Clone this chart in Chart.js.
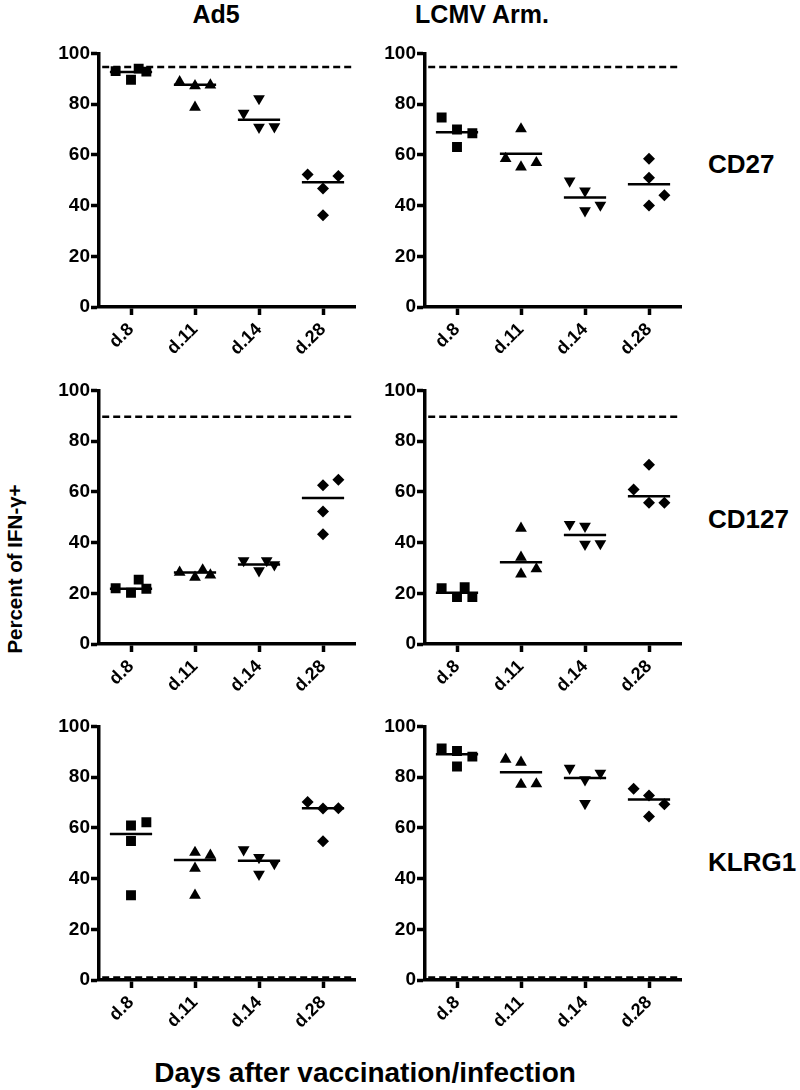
<!DOCTYPE html>
<html>
<head>
<meta charset="utf-8">
<script src="https://cdn.jsdelivr.net/npm/chart.js@4.4.1/dist/chart.umd.min.js"></script>
<style>
  body { margin: 0; width: 800px; height: 1090px; position: relative; overflow: hidden; background: #fff;
         font-family: "Liberation Sans", Arial, sans-serif; font-weight: bold; color: #000; }
  canvas { position: absolute; }
  .lbl { position: absolute; white-space: nowrap; line-height: 1; transform: translate(-50%, -50%); }
  .row { position: absolute; white-space: nowrap; line-height: 1; transform: translateY(-50%); font-size: 26px; }
</style>
</head>
<body>

<div class="lbl" style="left:216px;top:14px;font-size:25px">Ad5</div>
<div class="lbl" style="left:482px;top:14px;font-size:25px">LCMV Arm.</div>
<div class="row" style="left:708px;top:164px">CD27</div>
<div class="row" style="left:708px;top:519px">CD127</div>
<div class="row" style="left:708px;top:862px">KLRG1</div>
<div class="lbl" style="left:15px;top:569px;font-size:20.5px;transform:translate(-50%,-50%) rotate(-90deg)">Percent of IFN-γ+</div>
<div class="lbl" style="left:365px;top:1073px;font-size:28px">Days after vaccination/infection</div>

<script>
// jours et graduations
const jours = ["d.8", "d.11", "d.14", "d.28"];
const yTicks = [0, 20, 40, 60, 80, 100];
// ligne pointillée de référence, une par rangée (CD27, CD127, KLRG1)
const refLignes = [94.6, 89.6, 1.0];

// valeurs par souris (4 par jour), et la barre horizontale de chaque groupe
const ad5Cd27 = [[89.6, 92.8, 93.0, 94.0], [87.2, 88.8, 87.5, 78.7], [82.2, 76.4, 70.9, 71.1], [46.7, 52.2, 51.7, 36.2]];
const ad5Cd27Med = [92.7, 87.6, 73.8, 49.2];
const lcmvCd27 = [[74.7, 70.0, 63.1, 68.5], [58.5, 70.2, 55.2, 56.9], [49.7, 45.8, 38.0, 40.2], [58.5, 51.0, 44.1, 40.0]];
const lcmvCd27Med = [68.9, 60.4, 43.2, 48.4];
const ad5Cd127 = [[22.0, 20.2, 25.4, 21.8], [28.3, 26.3, 29.2, 27.2], [32.9, 28.9, 32.9, 31.3], [62.6, 64.8, 52.2, 43.3]];
const ad5Cd127Med = [21.8, 28.2, 31.3, 57.6];
const lcmvCd127 = [[22.0, 18.5, 22.4, 18.5], [45.6, 34.2, 27.6, 29.6], [47.2, 46.5, 39.4, 39.6], [70.7, 60.9, 55.7, 55.7]];
const lcmvCd127Med = [20.2, 32.2, 43.0, 58.3];
const ad5Klrg1 = [[60.9, 62.2, 54.8, 33.4], [49.2, 50.3, 44.0, 33.4], [51.4, 48.3, 41.7, 46.0], [67.7, 67.6, 70.2, 54.7]];
const ad5Klrg1Med = [57.6, 47.3, 47.0, 67.7];
const lcmvKlrg1 = [[90.3, 91.3, 84.2, 88.1], [87.0, 85.8, 77.1, 77.3], [81.6, 79.0, 83.5, 69.6], [75.4, 72.8, 69.3, 64.5]];
const lcmvKlrg1Med = [89.0, 81.9, 79.7, 71.2];

const panneaux = [
  { data: ad5Cd27, med: ad5Cd27Med, row: 0, col: 0 },
  { data: lcmvCd27, med: lcmvCd27Med, row: 0, col: 1 },
  { data: ad5Cd127, med: ad5Cd127Med, row: 1, col: 0 },
  { data: lcmvCd127, med: lcmvCd127Med, row: 1, col: 1 },
  { data: ad5Klrg1, med: ad5Klrg1Med, row: 2, col: 0 },
  { data: lcmvKlrg1, med: lcmvKlrg1Med, row: 2, col: 1 },
];

const symboles = [
  { style: "rect", r: 7, rot: 0 },
  { style: "triangle", r: 6.8, rot: 0 },
  { style: "triangle", r: 6.8, rot: 180 },
  { style: "rectRot", r: 6, rot: 0 },
];

const plotLeft = [99, 425];
const plotTop = [51, 388, 724];
const AXE_G = 70, AXE_B = 70, PAD = 10, TAILLE = 256;

// Fonction pour écarter les points qui se chevauchent (comme un dot plot)
function placerPoints(valeurs, jour) {
  const pas = 0.12, seuil = 5.9;
  const tries = valeurs.slice().sort((a, b) => a - b);
  const places = [];
  tries.forEach((v) => {
    const libre = (s) => !places.some((p) => p.s === s && Math.abs(p.v - v) < seuil);
    const nG = places.filter((p) => p.s < 0).length;
    const nD = places.filter((p) => p.s > 0).length;
    const ordre = nG < nD ? [0, -2, 2, 1, -1, 3, -3] : [0, 2, -2, 1, -1, 3, -3];
    const s = ordre.find(libre);
    places.push({ s: s === undefined ? 0 : s, v: v });
  });
  return places.map((p) => ({ x: jour + p.s * pas, y: p.v }));
}

function creerPanneau(p) {
  const canvas = document.createElement("canvas");
  canvas.width = AXE_G + TAILLE + PAD;
  canvas.height = PAD + TAILLE + AXE_B;
  canvas.style.left = (plotLeft[p.col] - AXE_G) + "px";
  canvas.style.top = (plotTop[p.row] - PAD) + "px";
  document.body.appendChild(canvas);

  const datasets = [];
  datasets.push({
    data: [{ x: -0.45, y: refLignes[p.row] }, { x: 3.5, y: refLignes[p.row] }],
    showLine: true, borderColor: "#000", borderWidth: 2.5, borderDash: [7, 4],
    pointRadius: 0,
  });

  let barres = [];
  p.med.forEach((m, i) => {
    barres.push({ x: i - 0.33, y: m }, { x: i + 0.33, y: m }, { x: i, y: null });
  });
  datasets.push({
    data: barres, showLine: true, spanGaps: false, borderColor: "#000", borderWidth: 2.5,
    pointRadius: 0,
  });

  p.data.forEach((valeurs, i) => {
    const sym = symboles[i];
    datasets.push({
      data: placerPoints(valeurs, i),
      pointStyle: sym.style, pointRadius: sym.r, pointRotation: sym.rot,
      backgroundColor: "#000", borderColor: "#000", borderWidth: 0,
    });
  });

  const grille = {
    display: true, drawOnChartArea: false, drawTicks: true,
    tickLength: 8, tickWidth: 3.5, tickColor: "#000",
  };

  new Chart(canvas.getContext("2d"), {
    type: "scatter",
    data: { datasets: datasets },
    options: {
      responsive: false,
      animation: false,
      events: [],
      layout: { padding: { top: PAD, right: PAD, left: 0, bottom: 0 } },
      plugins: { legend: { display: false }, tooltip: { enabled: false } },
      scales: {
        x: {
          type: "linear", min: -0.5, max: 3.5,
          afterBuildTicks: (s) => { s.ticks = jours.map((j, i) => ({ value: i })); },
          afterFit: (s) => { s.height = AXE_B; },
          ticks: {
            autoSkip: false, minRotation: 45, maxRotation: 45, padding: 4, color: "#000",
            font: { family: "'Liberation Sans', Arial", size: 18, weight: "bold" },
            callback: (v) => jours[v],
          },
          grid: grille,
          border: { display: true, color: "#000", width: 3.5 },
        },
        y: {
          min: 0, max: 100,
          afterBuildTicks: (s) => { s.ticks = yTicks.map((v) => ({ value: v })); },
          afterFit: (s) => { s.width = AXE_G; },
          ticks: {
            autoSkip: false, padding: 1, color: "#000",
            font: { family: "'Liberation Sans', Arial", size: 19, weight: "bold" },
          },
          grid: grille,
          border: { display: true, color: "#000", width: 3.5 },
        },
      },
    },
  });
}

panneaux.forEach(creerPanneau);
</script>
</body>
</html>
